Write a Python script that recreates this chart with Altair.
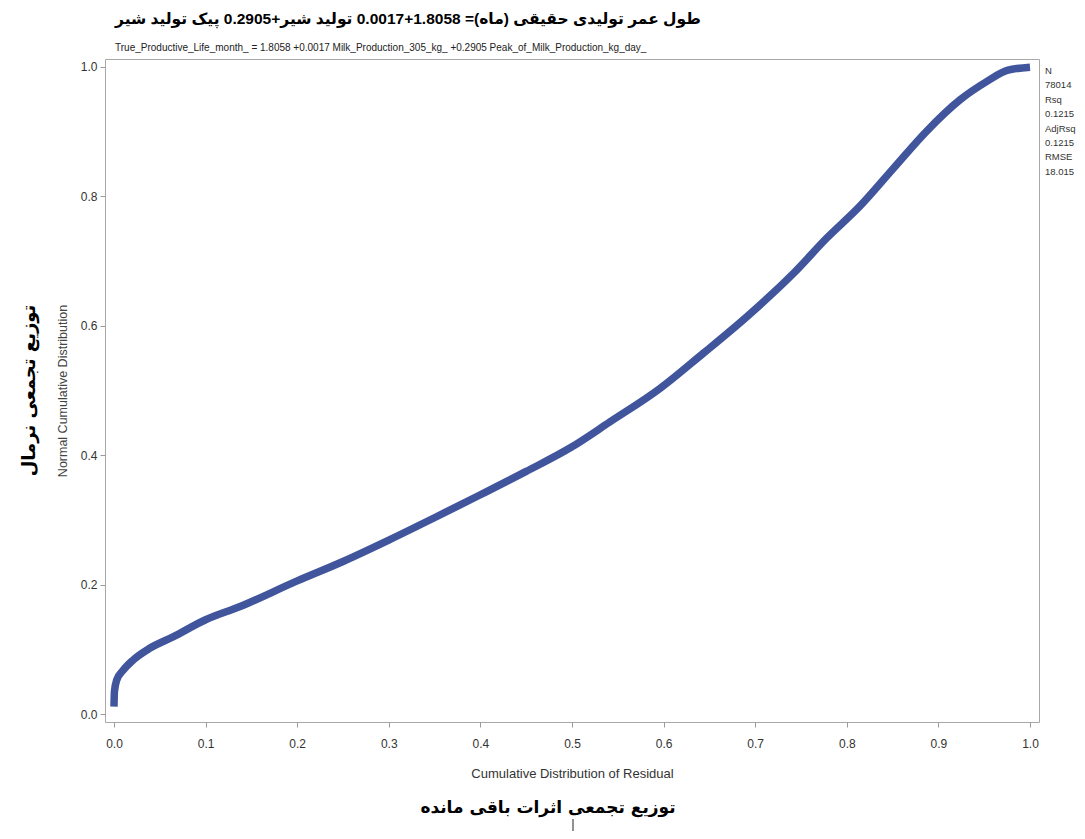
import altair as alt
import pandas as pd

# Values (P-P plot of residuals)
cum_resid = [0.0, 0.0005, 0.003, 0.010, 0.021, 0.039, 0.065, 0.100, 0.137, 0.200,
             0.250, 0.300, 0.352, 0.400, 0.450, 0.500, 0.541, 0.596, 0.643, 0.691,
             0.742, 0.778, 0.814, 0.851, 0.887, 0.924, 0.953, 0.975, 1.0]
normal_cum = [0.012, 0.035, 0.053, 0.068, 0.084, 0.102, 0.120, 0.146, 0.166, 0.206,
              0.236, 0.269, 0.305, 0.339, 0.375, 0.413, 0.451, 0.503, 0.557, 0.614,
              0.681, 0.735, 0.784, 0.843, 0.900, 0.949, 0.977, 0.994, 0.999]

x_ticks = [0.0, 0.1, 0.2, 0.3, 0.4, 0.5, 0.6, 0.7, 0.8, 0.9, 1.0]
y_ticks = [0.0, 0.2, 0.4, 0.6, 0.8, 1.0]

stats_lines = ["N", "78014", "Rsq", "0.1215", "AdjRsq", "0.1215", "RMSE", "18.015"]

title_fa = "طول عمر تولیدی حقیقی (ماه)= 1.8058+0.0017 تولید شیر+0.2905 پیک تولید شیر"
subtitle_en = "True_Productive_Life_month_ = 1.8058 +0.0017 Milk_Production_305_kg_ +0.2905 Peak_of_Milk_Production_kg_day_"
x_title_en = "Cumulative Distribution of Residual"
y_title_en = "Normal Cumulative Distribution"
x_title_fa = "توزیع تجمعی اثرات باقی مانده"
y_title_fa = "توزیع تجمعی نرمال"

W, H = 934, 663
LAT = "Liberation Sans"
FA = "DejaVu Sans"

df = pd.DataFrame({"x": cum_resid, "y": normal_cum})
one = pd.DataFrame({"k": [0]})

curve = alt.Chart(df).mark_line(
    color="#41559c", strokeWidth=7.5, interpolate="monotone", strokeCap="butt"
).encode(
    x=alt.X("x:Q",
            scale=alt.Scale(domain=[-0.0098, 1.0098], nice=False, zero=False),
            axis=alt.Axis(values=x_ticks, format=".1f", title=x_title_en, grid=False,
                          domain=False, tickSize=5, tickColor="#9a9a9a",
                          labelColor="#333", labelFont=LAT, labelFontSize=12,
                          labelPadding=11, labelFlush=False,
                          titleFont=LAT, titleFontSize=13, titleFontWeight="normal",
                          titleColor="#333", titleY=51, titleBaseline="middle")),
    y=alt.Y("y:Q",
            scale=alt.Scale(domain=[-0.0118, 1.0116], nice=False, zero=False),
            axis=alt.Axis(values=y_ticks, format=".1f", title=y_title_en, grid=False,
                          domain=False, tickSize=5, tickColor="#9a9a9a",
                          labelColor="#333", labelFont=LAT, labelFontSize=12,
                          labelPadding=3, labelFlush=False,
                          titleFont=LAT, titleFontSize=12.5, titleFontWeight="normal",
                          titleColor="#444", titleX=-43, titleY=H / 2,
                          titleAngle=270, titleAlign="center", titleBaseline="middle")),
)

stats = alt.Chart(one).mark_text(
    align="left", baseline="top", lineHeight=14.4, fontSize=9.5, font=LAT, color="#333"
).encode(x=alt.value(W + 6), y=alt.value(7), text=alt.value(stats_lines))

y_fa = alt.Chart(one).mark_text(
    font=FA, fontWeight="bold", fontSize=18, angle=270, align="center", baseline="middle",
    color="#000"
).encode(x=alt.value(-75), y=alt.value(H / 2), text=alt.value(y_title_fa))

x_fa = alt.Chart(one).mark_text(
    font=FA, fontWeight="bold", fontSize=17, align="center", baseline="middle", color="#000"
).encode(x=alt.value(443), y=alt.value(749), text=alt.value(x_title_fa))

cursor = alt.Chart(one).mark_rule(color="#222", strokeWidth=1).encode(
    x=alt.value(468), y=alt.value(760), y2=alt.value(785))

chart = alt.layer(curve, stats, y_fa, x_fa, cursor).properties(
    width=W, height=H,
    title=alt.TitleParams(text=title_fa, subtitle=subtitle_en, anchor="start", frame="group",
                          dx=10, font=LAT + ", " + FA, fontSize=15.5, fontWeight="bold",
                          color="#000",
                          subtitleFont=LAT, subtitleFontSize=10, subtitleColor="#222",
                          offset=-1, subtitlePadding=16),
    autosize=alt.AutoSizeParams(type="none"),
    padding={"left": 97, "top": 51, "right": 38, "bottom": 109},
).configure_view(stroke="#a8a8a8", strokeWidth=1)

chart.save("out.html", embed_options={"renderer": "svg", "actions": False})
